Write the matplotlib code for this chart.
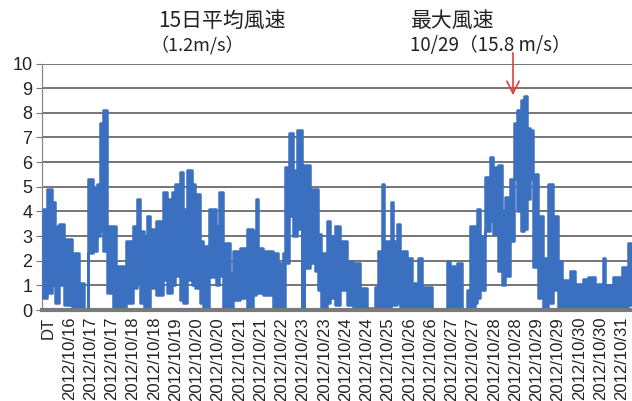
import matplotlib.pyplot as plt
import numpy as np

plt.rcParams['font.family'] = ['Liberation Sans', 'DejaVu Sans']

# 10-minute samples; each value holds until the next start index
seg_start = [-20, -4, 16, 28, 44, 64, 96, 124, 144, 160, 180, 196, 208, 220, 236,
             260, 272, 312, 340, 356, 368, 384, 396, 408, 432, 460, 476, 496, 508,
             528, 540, 556, 576, 588, 608, 620, 644, 672, 684, 700, 728, 740, 768,
             796, 820, 832, 840, 860, 900, 920, 940, 948, 964, 980, 996, 1016, 1024,
             1048, 1068, 1080, 1092, 1116, 1128, 1148, 1168, 1196, 1220, 1248, 1276,
             1308, 1320, 1336, 1344, 1372, 1380, 1396, 1408, 1436, 1456, 1480, 1496,
             1536, 1596, 1608, 1636, 1656, 1676, 1688, 1708, 1716, 1728, 1748, 1768,
             1780, 1800, 1816, 1828, 1848, 1864, 1876, 1892, 1904, 1916, 1928, 1940,
             1960, 1980, 2000, 2020, 2040, 2056, 2088, 2108, 2140, 2160, 2188, 2220,
             2228, 2260, 2296, 2320]
seg_end = 2336

speed_hi = [4.1, 4.9, 4.4, 3.4, 3.5, 2.9, 2.3, 1.1, 0.05, 5.3, 5.0, 5.1, 7.6, 8.1, 3.4,
            3.4, 1.8, 2.8, 3.4, 4.5, 3.2, 3.0, 3.8, 3.3, 3.6, 4.8, 4.5, 4.8, 5.1,
            5.6, 4.1, 5.7, 5.1, 4.7, 2.8, 2.6, 4.1, 3.4, 4.8, 2.7, 1.5, 2.4, 2.5,
            3.3, 3.2, 4.5, 2.5, 2.4, 2.3, 1.9, 2.3, 5.8, 7.2, 5.7, 7.3, 0.1, 5.9,
            4.9, 4.9, 3.1, 2.3, 3.6, 3.0, 3.4, 2.8, 2.0, 1.9, 0.9, 0.1,
            0.95, 2.4, 5.1, 2.8, 4.4, 2.8, 3.5, 2.4, 2.1, 1.1, 2.1, 0.95,
            0.05, 2.0, 1.8, 1.9, 0.05, 0.8, 3.4, 3.4, 4.1, 3.0, 5.4, 6.2,
            5.8, 5.9, 4.05, 4.6, 5.3, 7.6, 8.1, 8.5, 8.7, 7.4, 7.3, 5.5,
            3.8, 2.1, 5.1, 3.8, 2.0, 1.2, 1.6, 1.05, 1.25, 1.35, 1.05, 2.1,
            1.0, 1.35, 1.75, 2.7]
speed_lo = [0.5, 0.7, 1.0, 0.3, 1.0, 0.2, 0.1, 0.0, 0.0, 2.3, 2.4, 3.0, 3.2, 2.4, 0.7,
            0.1, 0.0, 0.3, 0.9, 1.1, 0.3, 0.0, 0.1, 0.9, 0.6, 1.2, 0.7, 1.0, 1.4,
            0.4, 0.3, 1.2, 1.0, 0.9, 0.3, 0.0, 1.35, 1.0, 1.4, 0.0, 0.0, 0.4, 0.5,
            0.1, 0.6, 0.8, 0.7, 0.6, 0.1, 0.0, 0.1, 1.9, 3.8, 3.0, 3.3, 0.0, 1.7,
            1.9, 1.6, 0.8, 0.0, 0.3, 0.5, 0.2, 0.8, 0.2, 0.0, 0.0, 0.0,
            0.0, 0.0, 0.5, 0.1, 0.4, 0.2, 0.3, 0.0, 0.0, 0.0, 0.0, 0.0,
            0.0, 0.0, 0.0, 0.1, 0.0, 0.0, 0.1, 0.3, 0.5, 0.8, 3.2, 3.6,
            3.1, 1.6, 1.0, 1.4, 2.8, 5.3, 4.0, 3.2, 3.3, 4.5, 5.3, 1.75,
            0.5, 0.0, 0.3, 0.8, 0.0, 0.0, 0.0, 0.0, 0.1, 0.0, 0.1, 0.0,
            0.0, 0.1, 0.0, 0.2]

tick_step = 85
tick_labels = ['DT', '2012/10/16', '2012/10/17', '2012/10/17', '2012/10/18', '2012/10/18',
               '2012/10/19', '2012/10/20', '2012/10/20', '2012/10/21', '2012/10/21',
               '2012/10/22', '2012/10/23', '2012/10/23', '2012/10/24', '2012/10/24',
               '2012/10/25', '2012/10/26', '2012/10/26', '2012/10/27', '2012/10/27',
               '2012/10/28', '2012/10/28', '2012/10/29', '2012/10/29', '2012/10/30',
               '2012/10/30', '2012/10/31']

max_idx = 1860
max_val = 8.6

x = np.append(seg_start, seg_end)
hi = np.append(speed_hi, speed_hi[-1])
lo = np.append(speed_lo, speed_lo[-1])

fig = plt.figure(figsize=(6.32, 4.01), dpi=100)
ax = fig.add_axes([0.0665, 0.2269, 0.9335, 0.6147])

blue = '#3b6fc0'
ax.fill_between(x, lo, hi, step='post', color=blue, edgecolor=blue, linewidth=1.8, zorder=3)

ax.set_ylim(0, 10)
ax.set_xlim(-24, seg_end)
ax.set_yticks(range(0, 11))
ax.yaxis.grid(True, color='#505050', linewidth=1.1)
ax.set_axisbelow(True)

ax.set_xticks(np.arange(len(tick_labels)) * tick_step)
ax.set_xticklabels(tick_labels, rotation=90, fontsize=12, color='#222222')
ax.tick_params(axis='x', length=0, pad=5)
ax.tick_params(axis='y', length=4, width=0.8, color='#777777', labelsize=13,
               labelcolor='#222222', pad=3)

for side in ['top', 'right']:
    ax.spines[side].set_visible(False)
ax.spines['left'].set_color('#888888')
ax.spines['left'].set_linewidth(0.9)
ax.spines['bottom'].set_color('#7a7a7a')
ax.spines['bottom'].set_linewidth(3)
ax.spines['bottom'].set_zorder(4)

ax.annotate('', xy=(max_idx, max_val), xytext=(max_idx, 10.55),
            arrowprops=dict(arrowstyle='->', color='#e0403a', lw=1.2,
                            mutation_scale=22),
            annotation_clip=False, zorder=5)

jp = ['Noto Sans CJK JP', 'DejaVu Sans']
fig.text(0.250, 0.948, '15日平均風速', family=jp, fontsize=15, va='center', color='#222222')
fig.text(0.238, 0.887, '（1.2m/s）', family=jp, fontsize=13, va='center', color='#222222')
fig.text(0.650, 0.948, '最大風速', family=jp, fontsize=15, va='center', color='#222222')
fig.text(0.648, 0.887, '10/29（15.8 m/s）', family=jp, fontsize=13.5, va='center', color='#222222')

fig.savefig('out.png', dpi=100)
